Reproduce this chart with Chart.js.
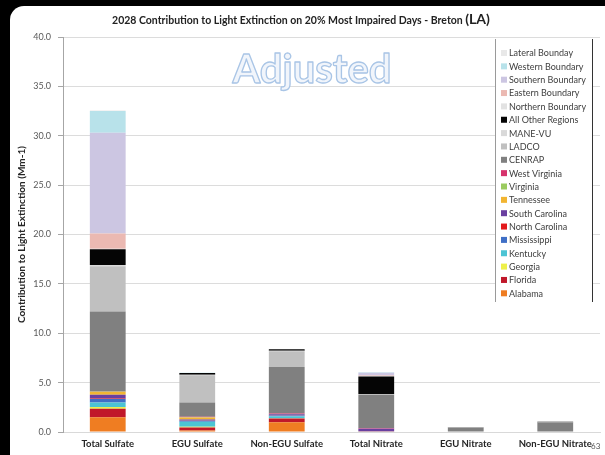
<!DOCTYPE html>
<html>
<head>
<meta charset="utf-8">
<script src="https://cdn.jsdelivr.net/npm/chart.js@4/dist/chart.umd.min.js"></script>
<style>
  html, body { margin:0; padding:0; background:#000; width:605px; height:455px; overflow:hidden; }
  #paper { position:absolute; left:10px; top:6px; right:0; bottom:0; background:#fff; border-top-left-radius:14px; }
  #c { position:absolute; left:0; top:0; }
  #pg { position:absolute; left:591px; top:441px; font:8px Lato, sans-serif; color:#555; }
</style>
</head>
<body>
<div id="paper"></div>
<canvas id="c" width="605" height="455"></canvas>
<div id="pg">63</div>
<script>
// ---- data (Mm-1) ----
const categories = ['Total Sulfate', 'EGU Sulfate', 'Non-EGU Sulfate', 'Total Nitrate', 'EGU Nitrate', 'Non-EGU Nitrate'];
const yTicks = [0, 5, 10, 15, 20, 25, 30, 35, 40];

const alabama       = [1.50, 0.15, 0.98, 0.05, 0, 0];
const florida       = [0.85, 0.30, 0.38, 0.02, 0, 0];
const georgia       = [0.18, 0.08, 0.03, 0, 0, 0];
const kentucky      = [0.45, 0.50, 0.20, 0, 0, 0];
const mississippi   = [0.35, 0.10, 0.08, 0.02, 0, 0];
const northCarolina = [0.05, 0.03, 0.02, 0, 0, 0];
const southCarolina = [0.40, 0.10, 0.10, 0.25, 0, 0];
const tennessee     = [0.26, 0.22, 0.02, 0, 0, 0];
const virginia      = [0.05, 0.02, 0.02, 0, 0, 0];
const westVirginia  = [0.05, 0.05, 0.05, 0.03, 0, 0];
const cenrap        = [8.05, 1.45, 4.70, 3.40, 0.42, 0.92];
const ladco         = [4.60, 2.75, 1.60, 0.08, 0.03, 0.03];
const maneVu        = [0.12, 0.05, 0.05, 0, 0, 0];
const allOther      = [1.60, 0.18, 0.15, 1.78, 0.03, 0.10];
const northernBdy   = [0.05, 0, 0, 0.05, 0, 0];
const easternBdy    = [1.55, 0, 0, 0.03, 0, 0];
const southernBdy   = [10.20, 0, 0, 0.30, 0, 0];
const westernBdy    = [2.20, 0.02, 0, 0.05, 0, 0];
const lateralBdy    = [0.05, 0, 0, 0, 0, 0];

const seriesNames = ['Alabama','Florida','Georgia','Kentucky','Mississippi','North Carolina','South Carolina','Tennessee','Virginia','West Virginia','CENRAP','LADCO','MANE-VU','All Other Regions','Northern Boundary','Eastern Boundary','Southern Boundary','Western Boundary','Lateral Bounday'];
const seriesValues = [alabama, florida, georgia, kentucky, mississippi, northCarolina, southCarolina, tennessee, virginia, westVirginia, cenrap, ladco, maneVu, allOther, northernBdy, easternBdy, southernBdy, westernBdy, lateralBdy];
const seriesColors = ['#EF7D22','#C0182A','#EEF04A','#4CC4D4','#3F6FC6','#E31A1C','#6A3FA0','#F2B531','#9BCB60','#D6336C','#808080','#C0C0C0','#D9D9D9','#050505','#E2E2E2','#EBB9B2','#CCC6E2','#B8E2EA','#E8E8E8'];

const FONT = 'Lato, "Open Sans", sans-serif';

const datasets = seriesNames.map((n, i) => ({
  label: n,
  data: seriesValues[i],
  backgroundColor: seriesColors[i],
  borderWidth: 0,
  barPercentage: 0.4,
  categoryPercentage: 1.0
}));

const extras = {
  id: 'extras',
  beforeDatasetsDraw(chart) {
    const ctx = chart.ctx;
    ctx.save();
    ctx.font = 'bold 40px ' + FONT;
    ctx.textAlign = 'center';
    ctx.textBaseline = 'alphabetic';
    ctx.lineJoin = 'round';
    ctx.fillStyle = '#F1F5FB';
    ctx.fillText('Adjusted', 312, 83);
    ctx.strokeStyle = '#A9C5E6';
    ctx.lineWidth = 1.3;
    ctx.strokeText('Adjusted', 312, 83);
    ctx.restore();
  },
  afterDraw(chart) {
    const ctx = chart.ctx;
    ctx.save();
    // title
    const t1 = '2028 Contribution to Light Extinction on 20% Most Impaired Days - Breton ';
    const t2 = '(LA)';
    ctx.textBaseline = 'alphabetic';
    ctx.fillStyle = '#222';
    ctx.font = 'bold 10.5px ' + FONT;
    const w1 = ctx.measureText(t1).width;
    ctx.font = 'bold 14px ' + FONT;
    const w2 = ctx.measureText(t2).width;
    const x0 = 301 - (w1 + w2) / 2;
    ctx.textAlign = 'left';
    ctx.font = 'bold 10.5px ' + FONT;
    ctx.fillText(t1, x0, 24);
    ctx.font = 'bold 14px ' + FONT;
    ctx.fillText(t2, x0 + w1, 24);

    // legend box
    const lx = 495, rx = 592, ty = 39, by = 302;
    ctx.fillStyle = '#fff';
    ctx.fillRect(lx, ty, rx - lx, by - ty);
    ctx.strokeStyle = '#9a9a9a';
    ctx.lineWidth = 1;
    ctx.beginPath(); ctx.moveTo(lx + 0.5, ty); ctx.lineTo(lx + 0.5, by); ctx.stroke();
    ctx.strokeStyle = '#333';
    ctx.beginPath(); ctx.moveTo(rx + 0.5, ty); ctx.lineTo(rx + 0.5, by); ctx.stroke();

    ctx.font = '9px ' + FONT;
    ctx.textBaseline = 'middle';
    const ds = chart.data.datasets;
    for (let k = 0; k < ds.length; k++) {
      const d = ds[ds.length - 1 - k];
      const y = 53 + k * 13.35;
      ctx.fillStyle = d.backgroundColor;
      ctx.fillRect(501, y - 3, 6, 6);
      ctx.fillStyle = '#404040';
      ctx.fillText(d.label, 509, y + 0.5);
    }
    ctx.restore();
  }
};

new Chart(document.getElementById('c'), {
  type: 'bar',
  data: { labels: categories, datasets },
  plugins: [extras],
  options: {
    responsive: false,
    animation: false,
    layout: { padding: { top: 37, right: 5, bottom: 0, left: 0 } },
    plugins: { legend: { display: false }, title: { display: false }, tooltip: { enabled: false } },
    scales: {
      x: {
        stacked: true,
        grid: { display: false, drawTicks: false },
        border: { display: true, color: '#D9D9D9' },
        ticks: { color: '#262626', font: { family: FONT, size: 9.5, weight: 'bold' }, padding: 6, maxRotation: 0, autoSkip: false },
        afterFit(s) { s.height = 23; }
      },
      y: {
        stacked: true,
        min: 0, max: 40,
        afterBuildTicks(s) { s.ticks = yTicks.map(v => ({ value: v })); },
        grid: { color: '#DCDCDC', lineWidth: 1, tickLength: 5, tickColor: '#A6A6A6' },
        border: { display: true, color: '#A6A6A6' },
        ticks: { color: '#595959', font: { family: FONT, size: 9 }, padding: 7, callback: v => Number(v).toFixed(1) },
        title: { display: true, text: 'Contribution to Light Extinction (Mm-1)', color: '#262626', font: { family: FONT, size: 10, weight: 'bold' }, padding: { top: 16, bottom: 0 } },
        afterFit(s) { s.width = 63; }
      }
    }
  }
});
</script>
</body>
</html>
